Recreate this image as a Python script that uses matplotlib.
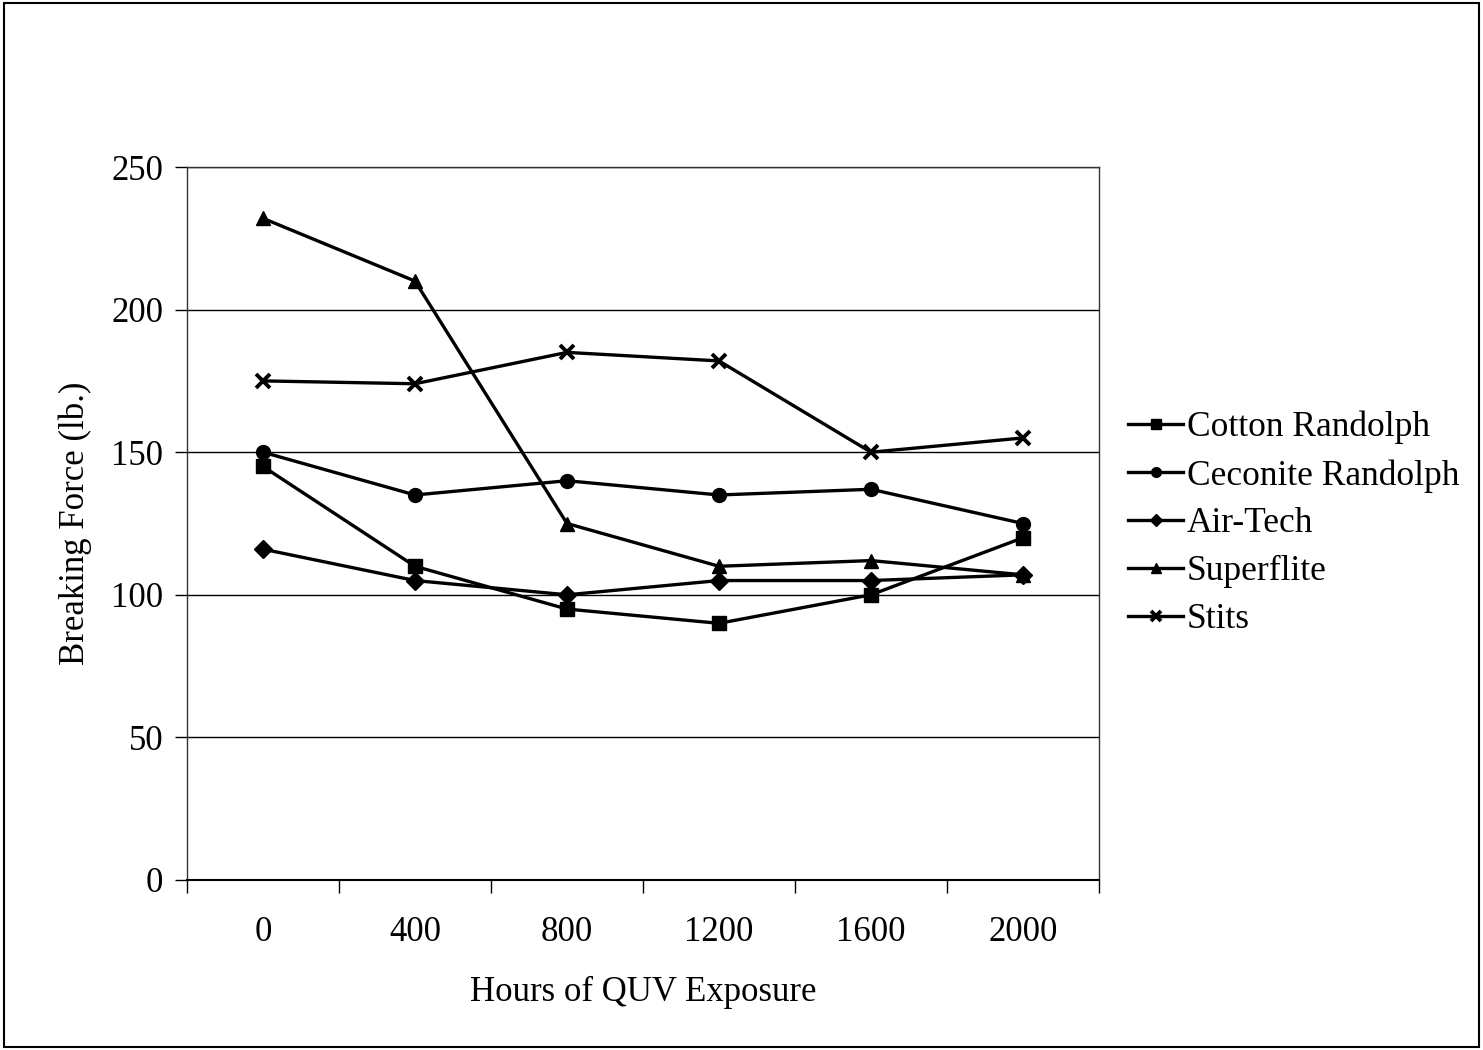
import matplotlib.pyplot as plt
import numpy as np

hours = ['0', '400', '800', '1200', '1600', '2000']
cotton = [145, 110, 95, 90, 100, 120]
ceconite = [150, 135, 140, 135, 137, 125]
airtech = [116, 105, 100, 105, 105, 107]
superflite = [232, 210, 125, 110, 112, 107]
stits = [175, 174, 185, 182, 150, 155]

series = [
    ('Cotton Randolph', cotton, 's'),
    ('Ceconite Randolph', ceconite, 'o'),
    ('Air-Tech', airtech, 'D'),
    ('Superflite', superflite, '^'),
    ('Stits', stits, 'x'),
]

plt.rcParams['font.family'] = ['Liberation Serif', 'DejaVu Serif']

fig = plt.figure(figsize=(14.83, 10.5), dpi=100)
ax = fig.add_axes([187 / 1483, 1 - 880 / 1050, 912 / 1483, 713 / 1050])

x = np.arange(len(hours))
for name, vals, mk in series:
    ms = 10 if mk != 'D' else 9
    ax.plot(x, vals, color='black', lw=2.4, marker=mk, ms=ms, mew=2.8 if mk == 'x' else 1,
            label=name)

ax.set_xlim(-0.5, len(hours) - 0.5)
ax.set_ylim(0, 250)
ax.set_yticks(np.arange(0, 251, 50))
ax.yaxis.grid(True, color='black', lw=1)
ax.set_axisbelow(True)

# category ticks sit between categories, labels at centres
ax.set_xticks(np.arange(-0.5, len(hours), 1))
ax.set_xticklabels([])
ax.set_xticks(x, minor=True)
ax.set_xticklabels(hours, minor=True)
ax.tick_params(axis='x', which='minor', length=0, pad=26, labelsize=25)
ax.tick_params(axis='x', which='major', length=9, width=1, direction='out')
ax.tick_params(axis='y', length=9, width=1, labelsize=25, pad=8)

for s in ax.spines.values():
    s.set_linewidth(1)
    s.set_color('#333333')
ax.spines['bottom'].set_color('black')
ax.spines['bottom'].set_linewidth(1.5)

ax.set_ylabel('Breaking Force (lb.)', fontsize=25, labelpad=14)
ax.set_xlabel('Hours of QUV Exposure', fontsize=25, labelpad=19)

leg = ax.legend(loc='center left', bbox_to_anchor=(0.997, 0.5), frameon=False, fontsize=25.5,
                handlelength=1.55, handletextpad=0.1, labelspacing=0.42, markerscale=0.7)

fig.patches.append(plt.Rectangle((0.003, 0.003), 0.994, 0.994, transform=fig.transFigure,
                                 fill=False, edgecolor='black', lw=1.5))

fig.savefig('out.png', dpi=100)
